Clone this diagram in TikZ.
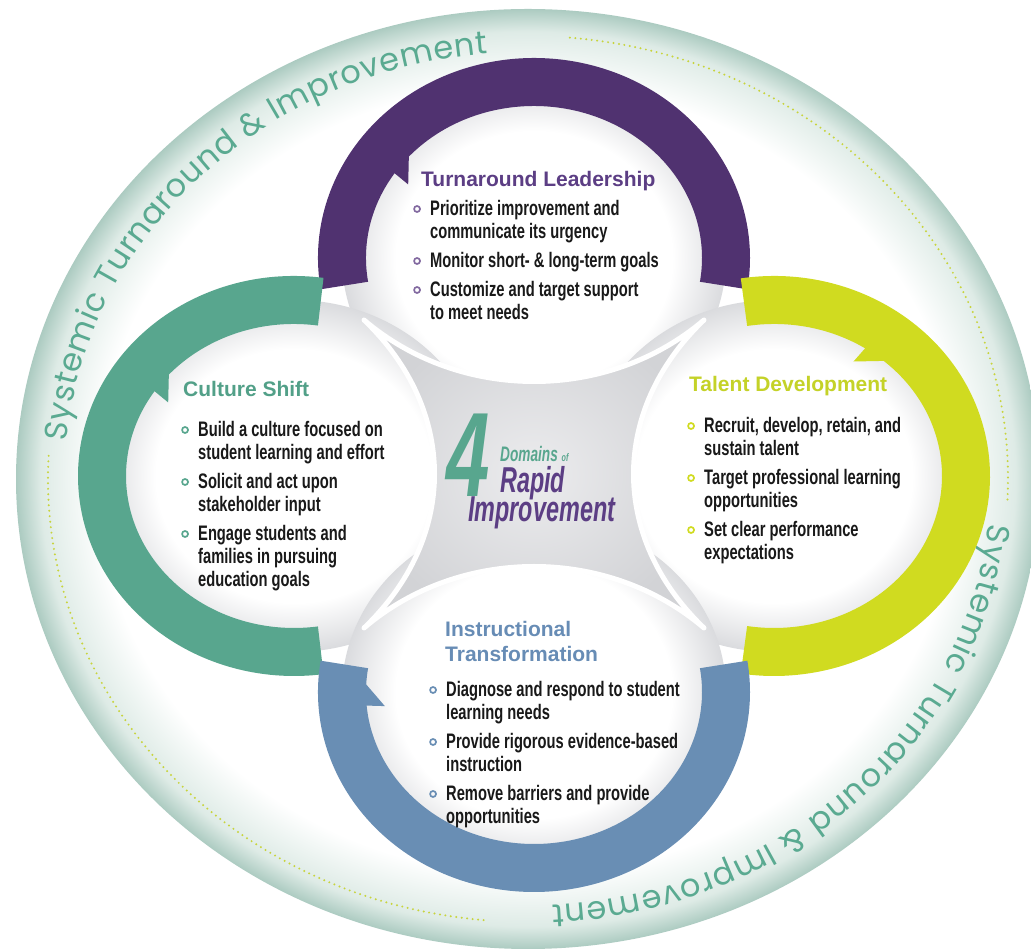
\documentclass[tikz,border=0pt]{standalone}
\usepackage{fontspec}
\setmainfont{Liberation Sans}
\newfontfamily\bodyfont[FakeStretch=0.7]{Liberation Sans}
\newfontfamily\titlefont{Liberation Sans}
\newfontfamily\centerfont[FakeStretch=0.65]{Liberation Sans}
\newfontfamily\sysfont{Poppins}
\usetikzlibrary{positioning}
\usetikzlibrary{decorations.text}
\definecolor{purplering}{RGB}{80,50,112}
\definecolor{purpletext}{RGB}{92,62,132}
\definecolor{purplebul}{RGB}{130,105,160}
\definecolor{greenring}{RGB}{88,166,142}
\definecolor{greentext}{RGB}{82,160,136}
\definecolor{yellowring}{RGB}{208,219,32}
\definecolor{yellowtext}{RGB}{196,210,40}
\definecolor{bluering}{RGB}{105,142,180}
\definecolor{bluetext}{RGB}{103,140,181}
\definecolor{systeal}{RGB}{90,170,145}
\definecolor{dotgreen}{RGB}{200,212,60}
\definecolor{xgray}{RGB}{210,211,214}
\definecolor{xlight}{RGB}{236,236,238}
\definecolor{discedge}{RGB}{218,219,222}
\definecolor{outermid}{RGB}{222,235,230}
\definecolor{outeredge}{RGB}{172,203,193}
\definecolor{bodyblack}{RGB}{25,25,25}
\pgfdeclareradialshading{outerfade}{\pgfpointorigin}{color(0bp)=(white); color(21bp)=(white); color(23.8bp)=(outermid); color(25bp)=(outeredge); color(50bp)=(outeredge)}
\pgfdeclareradialshading{discfade}{\pgfpointorigin}{color(0bp)=(white); color(18bp)=(white); color(25bp)=(discedge); color(50bp)=(discedge)}
\pgfdeclareradialshading{xfade}{\pgfpointorigin}{color(0bp)=(xlight); color(25bp)=(xgray); color(50bp)=(xgray)}
\newcommand{\bul}[1]{\makebox[17pt][l]{\tikz[baseline={(0pt,-7pt)}]\draw[#1,line width=1.7pt] (4pt,0pt) circle (3pt);}}

\begin{document}
\begin{tikzpicture}[x=1pt,y=1pt,line join=round,
  ring/.style={line width=48pt},
  dotline/.style={dotgreen,line width=2.2pt,line cap=round,dash pattern=on 0pt off 5.5pt},
  systext/.style={decorate,decoration={text along path,text align=fit to path,text color=systeal,
    text={|\sysfont\fontsize{32}{32}\selectfont|Systemic Turnaround {\&} Improvement}}},
  titletext/.style={inner sep=0pt,anchor=base west,font=\titlefont\bfseries\fontsize{21}{25}\selectfont},
  listtext/.style={inner sep=0pt,anchor=base west,text=bodyblack,font=\bodyfont\bfseries\fontsize{21}{23}\selectfont},
  centertext/.style={inner sep=0pt,anchor=base west}]
\useasboundingbox (0,0) rectangle (1031,950);
\fill[white] (0,0) rectangle (1031,950);

\coordinate (O) at (528,471);
\coordinate (leadc) at (534,692);
\coordinate (culturec) at (294,474);
\coordinate (talentc) at (774,474);
\coordinate (instrc) at (534,258);

% outer band
\shade[shading=outerfade] (O) ellipse [x radius=512, y radius=470];
\draw[dotline] (O) ++(177:480 and 443) arc[start angle=177, end angle=265, x radius=480, y radius=443];
\draw[dotline] (O) ++(85:480 and 443) arc[start angle=85, end angle=-3, x radius=480, y radius=443];
\path[systext] (O) ++(175:463 and 427) arc[start angle=175, end angle=95, x radius=463, y radius=427];
\path[systext] (O) ++(-6:463 and 427) arc[start angle=-6, end angle=-87, x radius=463, y radius=427];

% discs and centre cross
\foreach \c in {leadc,culturec,talentc,instrc}
  \shade[shading=discfade] (\c) ellipse [x radius=192, y radius=176];
\coordinate (tipnw) at (364,630);
\coordinate (tipne) at (704,630);
\coordinate (tipse) at (704,322);
\coordinate (tipsw) at (364,322);
\shadedraw[shading=xfade, draw=white, line width=5pt] (tipnw) .. controls (460,548) and (608,548) .. (tipne)
  .. controls (610,540) and (610,412) .. (tipse) .. controls (608,404) and (460,404) .. (tipsw)
  .. controls (458,412) and (458,540) .. (tipnw) -- cycle;

% rings
\draw[ring, purplering] (leadc) ++(189:192 and 176) arc[start angle=189, end angle=-9, x radius=192, y radius=176];
\draw[ring, greenring] (culturec) ++(82:192 and 176) arc[start angle=82, end angle=278, x radius=192, y radius=176];
\draw[ring, yellowring] (talentc) ++(99:192 and 176) arc[start angle=99, end angle=-99, x radius=192, y radius=176];
\draw[ring, bluering] (instrc) ++(171:192 and 176) arc[start angle=171, end angle=369, x radius=192, y radius=176];
\foreach \c/\col/\a in {leadc/purplering/145, culturec/greenring/145, talentc/yellowring/56, instrc/bluering/184}
  \fill[\col, shift={(\c)}] (\a-8:171 and 155) -- (\a+1:171 and 155) -- (\a+2:150 and 135) -- cycle;

% titles
\node[titletext, text=purpletext] (leadtitle) at (421,763) {Turnaround Leadership};
\node[titletext, text=greentext] (culturetitle) at (183,553) {Culture Shift};
\node[titletext, text=yellowtext] (talenttitle) at (689,558) {Talent Development};
\node[titletext, text=bluetext] (instrtitle) at (445,313)
  {\begin{tabular}[t]{@{}l@{}}Instructional\\Transformation\end{tabular}};

% bullet lists
\node[listtext] (leadlist) at (413,734) {\begin{tabular}[t]{@{}l@{}l@{}}
  \bul{purplebul} & Prioritize improvement and\\
   & communicate its urgency\\[6pt]
  \bul{purplebul} & Monitor short- \& long-term goals\\[6pt]
  \bul{purplebul} & Customize and target support\\
   & to meet needs
  \end{tabular}};
\node[listtext] (culturelist) at (181,513) {\begin{tabular}[t]{@{}l@{}l@{}}
  \bul{greenring} & Build a culture focused on\\
   & student learning and effort\\[6pt]
  \bul{greenring} & Solicit and act upon\\
   & stakeholder input\\[6pt]
  \bul{greenring} & Engage students and\\
   & families in pursuing\\
   & education goals
  \end{tabular}};
\node[listtext] (talentlist) at (687,517) {\begin{tabular}[t]{@{}l@{}l@{}}
  \bul{yellowring} & Recruit, develop, retain, and\\
   & sustain talent\\[6pt]
  \bul{yellowring} & Target professional learning\\
   & opportunities\\[6pt]
  \bul{yellowring} & Set clear performance\\
   & expectations
  \end{tabular}};
\node[listtext] (instrlist) at (429,253) {\begin{tabular}[t]{@{}l@{}l@{}}
  \bul{bluering} & Diagnose and respond to student\\
   & learning needs\\[6pt]
  \bul{bluering} & Provide rigorous evidence-based\\
   & instruction\\[6pt]
  \bul{bluering} & Remove barriers and provide\\
   & opportunities
  \end{tabular}};

% centre label
\node[centertext, text=greenring, font=\centerfont\bfseries\itshape\fontsize{120}{120}\selectfont] (four) at (446,453) {4};
\node[centertext, text=greenring, font=\centerfont\bfseries\itshape\fontsize{21}{21}\selectfont] (domains) at (500,488)
  {Domains {\fontsize{11}{11}\selectfont of}};
\node[centertext, text=purpletext, font=\centerfont\bfseries\itshape\fontsize{36}{36}\selectfont] (rapid) at (500,457) {Rapid};
\node[centertext, text=purpletext, font=\centerfont\bfseries\itshape\fontsize{36}{36}\selectfont] (improve) at (468,428) {Improvement};
\end{tikzpicture}
\end{document}
